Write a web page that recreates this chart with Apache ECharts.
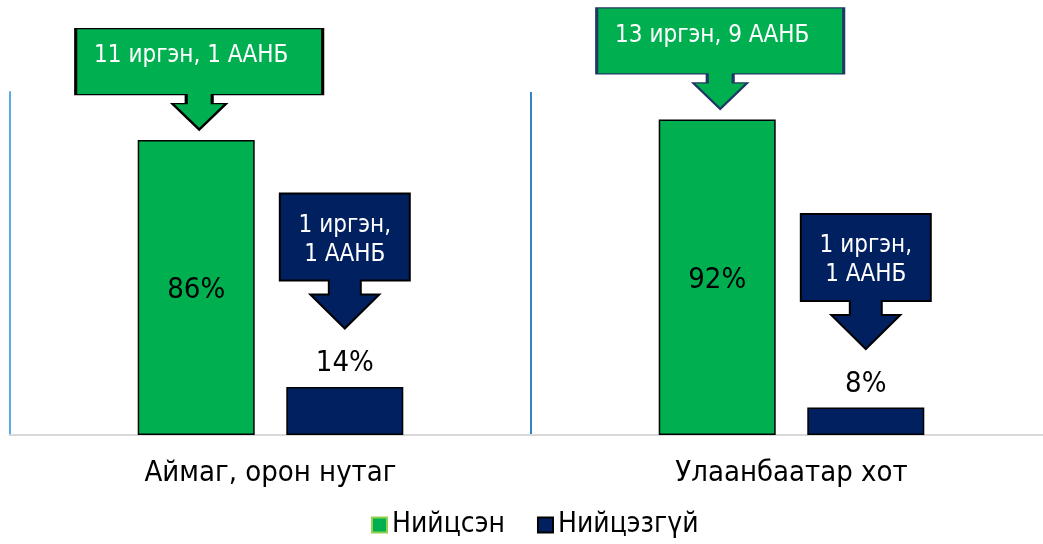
<!DOCTYPE html>
<html>
<head>
<meta charset="utf-8">
<script src="https://cdn.jsdelivr.net/npm/echarts@6/dist/echarts.min.js"></script>
<style>
  html, body { margin: 0; padding: 0; background: #fff; }
  #chart { width: 1043px; height: 544px; }
</style>
</head>
<body>
<div id="chart"></div>
<script>
  let categories = ["Аймаг, орон нутаг", "Улаанбаатар хот"];
  let matched = [86, 92];
  let notMatched = [14, 8];
  let matchedNotes = ["11 иргэн, 1 ААНБ", "13 иргэн, 9 ААНБ"];
  let notMatchedNotes = ["1 иргэн,\n1 ААНБ", "1 иргэн,\n1 ААНБ"];
  let seriesNames = ["Нийцсэн", "Нийцэзгүй"];

  let font = "'DejaVu Sans Condensed', 'DejaVu Sans', sans-serif";
  // callout shapes: box + down arrow
  let greenCallout = "path://M0,0 H247 V66 H136.5 V75 H150.5 L123.5,101 L96.5,75 H110.5 V66 H0 Z";
  let navyCallout = "path://M0,0 H130 V87 H81 V101 H99.5 L65,135 L30.5,101 H49 V87 H0 Z";
  let greenBorders = ["#000000", "#203864"];

  let myChart = echarts.init(document.getElementById("chart"));

  let option = {
    animation: false,
    textStyle: { fontFamily: font },
    grid: {
      left: 10,
      width: 1042,
      top: 92,
      bottom: 109,
      containLabel: false,
      outerBoundsMode: "none",
    },
    legend: {
      top: 506,
      left: 366,
      icon: "rect",
      itemWidth: 15,
      itemHeight: 15,
      itemGap: 32,
      textStyle: { fontSize: 28, color: "#000", fontFamily: font },
      data: [
        { name: seriesNames[0], itemStyle: { borderColor: "#92D050", borderWidth: 2 } },
        { name: seriesNames[1], itemStyle: { borderColor: "#000", borderWidth: 2 } },
      ],
    },
    xAxis: {
      type: "category",
      data: categories,
      axisLine: { lineStyle: { color: "#d9d9d9", width: 2 } },
      axisTick: { show: false },
      axisLabel: { fontSize: 29, color: "#000", margin: 24, fontFamily: font },
      splitLine: { show: true, interval: 0, lineStyle: { color: "#2F85C8", width: 2 } },
    },
    yAxis: {
      type: "value",
      min: 0,
      max: 100,
      axisLabel: { show: false },
      axisTick: { show: false },
      splitLine: { show: false },
      axisLine: { show: true, lineStyle: { color: "#5AACE2", width: 2 } },
    },
    series: [
      {
        name: seriesNames[0],
        type: "bar",
        barWidth: 117,
        barGap: "27%",
        data: matched,
        itemStyle: { color: "#00B050", borderColor: "#000", borderWidth: 1.5 },
        label: {
          show: true,
          position: "inside",
          formatter: "{c}%",
          fontSize: 29,
          color: "#000",
          fontFamily: font,
          offset: [0, 3],
        },
        markPoint: {
          symbol: greenCallout,
          symbolSize: [247, 101],
          symbolOffset: [3, -61],
          itemStyle: { color: "#00B050", borderWidth: 2 },
          label: {
            show: true,
            formatter: "{b}",
            color: "#fff",
            fontSize: 24,
            fontFamily: font,
            offset: [-8, -23],
          },
          data: matched.map((v, i) => ({
            name: matchedNotes[i],
            coord: [categories[i], v],
            itemStyle: { borderColor: greenBorders[i] },
          })),
        },
      },
      {
        name: seriesNames[1],
        type: "bar",
        barWidth: 117,
        data: notMatched,
        itemStyle: { color: "#002060", borderColor: "#000", borderWidth: 1.5 },
        label: {
          show: true,
          position: "top",
          distance: 9,
          formatter: "{c}%",
          fontSize: 29,
          color: "#000",
          fontFamily: font,
        },
        markPoint: {
          symbol: navyCallout,
          symbolSize: [130, 135],
          symbolOffset: [0, -126],
          itemStyle: { color: "#002060", borderColor: "#000", borderWidth: 2 },
          label: {
            show: true,
            formatter: "{b}",
            color: "#fff",
            fontSize: 24,
            lineHeight: 29,
            fontFamily: font,
            offset: [0, -21],
          },
          data: notMatched.map((v, i) => ({
            name: notMatchedNotes[i],
            coord: [categories[i], v],
          })),
        },
      },
    ],
  };
  myChart.setOption(option);
</script>
</body>
</html>
